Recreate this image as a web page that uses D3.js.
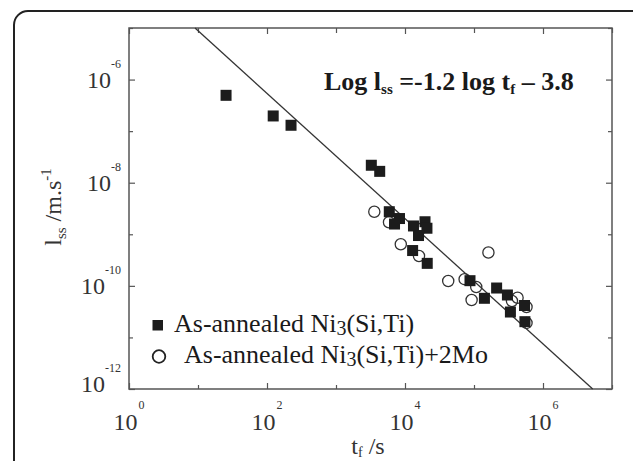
<!DOCTYPE html>
<html>
<head>
<meta charset="utf-8">
<script src="https://cdn.jsdelivr.net/npm/d3@7"></script>
<style>
  body { margin: 0; background: #fff; }
  text { font-family: "Liberation Serif", "Times New Roman", serif; fill: #333; }
</style>
</head>
<body>
<script>
// fitted line, two end points (t_f in s, l_ss in m/s)
const fitT = [9.06, 5.25e6];
const fitL = [1e-5, 1e-12];

// As-annealed Ni3(Si,Ti)  (filled squares)
const niT = [25.5, 123, 223, 3250, 4300, 5920, 8320, 7050, 13270, 19500, 20800, 15700, 12900, 21000,
  87500, 141600, 212800, 305000, 337000, 540000, 547000];
const niL = [4.95e-7, 1.97e-7, 1.30e-7, 2.18e-8, 1.66e-8, 2.74e-9, 2.02e-9, 1.58e-9, 1.45e-9, 1.75e-9,
  1.31e-9, 9.46e-10, 4.84e-10, 2.73e-10, 1.26e-10, 5.74e-11, 9.08e-11, 6.65e-11, 3.11e-11, 4.16e-11, 2.02e-11];

// As-annealed Ni3(Si,Ti)+2Mo  (open circles)
const moT = [3590, 5860, 8690, 15950, 42300, 73100, 107700, 92300, 161800, 428000, 355000, 577000, 577000, 16500];
const moL = [2.74e-9, 1.71e-9, 6.40e-10, 3.80e-10, 1.24e-10, 1.35e-10, 9.5e-11, 5.32e-11, 4.43e-10,
  5.89e-11, 5.08e-11, 3.89e-11, 1.91e-11, 1.26e-9];

const xExp = [0, 1, 2, 3, 4, 5, 6, 7];
const yExp = [-12, -11, -10, -9, -8, -7, -6, -5];
const xLabels = [0, 2, 4, 6];
const yLabels = [-12, -10, -8, -6];

const W = 633, H = 461;
const m = { left: 129, right: 612, top: 28, bottom: 389 };

const svg = d3.select('body')
  .append('svg')
  .attr('width', W)
  .attr('height', H);

// outer rounded box
svg.append('rect')
  .attr('x', 14).attr('y', 11)
  .attr('width', 700).attr('height', 500)
  .attr('rx', 14)
  .attr('fill', 'none')
  .attr('stroke', '#222')
  .attr('stroke-width', 2);

var x = d3.scaleLog().domain([1, 1e7]).range([m.left, m.right]);
var y = d3.scaleLog().domain([1e-12, 1e-5]).range([m.bottom, m.top]);

const isMajor = (v) => Math.round(Math.log10(v)) % 2 === 0;

function tickAxis(axis, g) {
  g.call(axis);
  g.select('.domain').remove();
  g.selectAll('.tick line')
    .attr('stroke', '#555')
    .attr('stroke-width', 1.2);
  return g;
}

var xVals = xExp.map(e => Math.pow(10, e));
var yVals = yExp.map(e => Math.pow(10, e));

// ticks on all four sides, pointing inward
var gb = svg.append('g').attr('transform', 'translate(0,' + m.bottom + ')');
tickAxis(d3.axisBottom(x).tickValues(xVals).tickFormat('').tickSizeOuter(0), gb);
gb.selectAll('.tick line').attr('y2', d => isMajor(d) ? -6 : -4);

var gt = svg.append('g').attr('transform', 'translate(0,' + m.top + ')');
tickAxis(d3.axisTop(x).tickValues(xVals).tickFormat('').tickSizeOuter(0), gt);
gt.selectAll('.tick line').attr('y2', d => isMajor(d) ? 6 : 5);

var gl = svg.append('g').attr('transform', 'translate(' + m.left + ',0)');
tickAxis(d3.axisLeft(y).tickValues(yVals).tickFormat('').tickSizeOuter(0), gl);
gl.selectAll('.tick line').attr('x2', d => isMajor(d) ? 6 : 4);

var gr = svg.append('g').attr('transform', 'translate(' + m.right + ',0)');
tickAxis(d3.axisRight(y).tickValues(yVals).tickFormat('').tickSizeOuter(0), gr);
gr.selectAll('.tick line').attr('x2', d => isMajor(d) ? -6 : -4);

// frame
svg.append('rect')
  .attr('x', m.left).attr('y', m.top)
  .attr('width', m.right - m.left).attr('height', m.bottom - m.top)
  .attr('fill', 'none')
  .attr('stroke', '#555')
  .attr('stroke-width', 1.5);

// tick labels 10^n
svg.append('g')
  .selectAll('text')
  .data(xLabels)
  .enter()
  .append('text')
  .attr('x', d => x(Math.pow(10, d)))
  .attr('y', 430)
  .attr('text-anchor', 'middle')
  .style('font-size', '24px')
  .each(function (d) {
    var t = d3.select(this);
    t.append('tspan').text('10');
    t.append('tspan').attr('dx', 1).attr('dy', -21).style('font-size', '12px').text(d);
  });

svg.append('g')
  .selectAll('text')
  .data(yLabels)
  .enter()
  .append('text')
  .attr('x', 121)
  .attr('y', d => y(Math.pow(10, d)) + (d === -12 ? 3 : 8.5))
  .attr('text-anchor', 'end')
  .style('font-size', '24px')
  .each(function (d) {
    var t = d3.select(this);
    t.append('tspan').text('10');
    t.append('tspan').attr('dy', -20).style('font-size', '12px').text(d);
  });

// axis titles
var yt = svg.append('text')
  .attr('transform', 'translate(61,207) rotate(-90)')
  .attr('text-anchor', 'middle')
  .style('font-size', '24px');
yt.append('tspan').text('l');
yt.append('tspan').attr('dy', 5).style('font-size', '15px').text('ss');
yt.append('tspan').attr('dy', -5).text(' /m.s');
yt.append('tspan').attr('dy', -10).style('font-size', '15px').text('-1');

var xt = svg.append('text')
  .attr('x', 368).attr('y', 454)
  .attr('text-anchor', 'middle')
  .style('font-size', '24px');
xt.append('tspan').text('t');
xt.append('tspan').attr('dy', 3).style('font-size', '14px').text('f');
xt.append('tspan').attr('dy', -3).text(' /s');

// fitted line
var plot = svg.append('g');
plot.append('line')
  .attr('x1', x(fitT[0])).attr('y1', y(fitL[0]))
  .attr('x2', x(fitT[1])).attr('y2', y(fitL[1]))
  .attr('stroke', '#333')
  .attr('stroke-width', 1.3);

// open circles
plot.append('g')
  .selectAll('circle')
  .data(moT)
  .enter()
  .append('circle')
  .attr('cx', d => x(d))
  .attr('cy', (d, i) => y(moL[i]))
  .attr('r', 5.6)
  .attr('fill', 'none')
  .attr('stroke', '#333')
  .attr('stroke-width', 1.3);

// filled squares
var sq = 11;
plot.append('g')
  .selectAll('rect')
  .data(niT)
  .enter()
  .append('rect')
  .attr('x', d => x(d) - sq / 2)
  .attr('y', (d, i) => y(niL[i]) - sq / 2)
  .attr('width', sq)
  .attr('height', sq)
  .attr('fill', '#1c1c1c');

// equation
var eq = svg.append('text')
  .attr('x', 324).attr('y', 90)
  .style('font-size', '26px')
  .style('font-weight', 'bold')
  .style('fill', '#1a1a1a');
eq.append('tspan').text('Log l');
eq.append('tspan').attr('dy', 4).style('font-size', '15px').text('ss');
eq.append('tspan').attr('dy', -4).text(' =-1.2 log t');
eq.append('tspan').attr('dy', 4).style('font-size', '15px').text('f');
eq.append('tspan').attr('dy', -4).text(' \u2013 3.8');

// legend
var lg = svg.append('g');
lg.append('rect')
  .attr('x', 152.5).attr('y', 320)
  .attr('width', 10.5).attr('height', 10.5)
  .attr('fill', '#1c1c1c');
lg.append('circle')
  .attr('cx', 159).attr('cy', 356.5)
  .attr('r', 6.3)
  .attr('fill', 'none')
  .attr('stroke', '#222')
  .attr('stroke-width', 1.8);

var l1 = lg.append('text').attr('x', 174).attr('y', 331.5).style('font-size', '26px').style('fill', '#1a1a1a');
l1.append('tspan').text('As-annealed Ni');
l1.append('tspan').attr('dy', 3).style('font-size', '20px').text('3');
l1.append('tspan').attr('dy', -3).text('(Si,Ti)');

var l2 = lg.append('text').attr('x', 184).attr('y', 363).style('font-size', '26px').style('fill', '#1a1a1a');
l2.append('tspan').text('As-annealed Ni');
l2.append('tspan').attr('dy', 3).style('font-size', '20px').text('3');
l2.append('tspan').attr('dy', -3).text('(Si,Ti)+2Mo');
</script>
</body>
</html>
